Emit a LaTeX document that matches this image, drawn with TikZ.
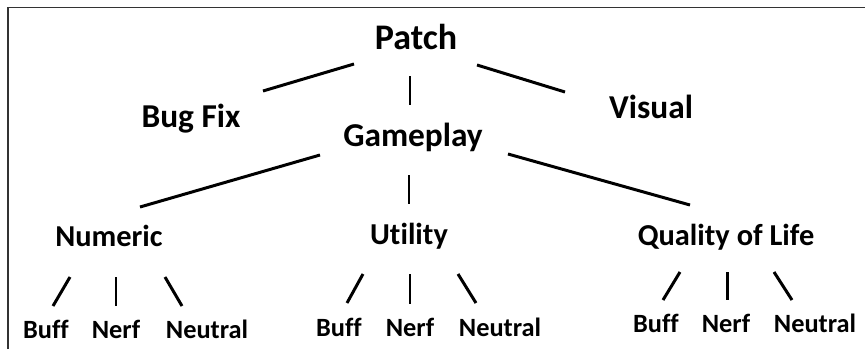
\documentclass[tikz,border=0pt]{standalone}
\usepackage{fontspec}
\setmainfont[Ligatures=NoCommon]{Carlito}

\begin{document}
\begin{tikzpicture}[
    x=0.02cm, y=-0.02cm,
    term/.style={inner sep=0pt, text depth=0pt},
    root/.style={term, text height=12.9pt, font=\fontsize{20.5}{24}\selectfont\bfseries},
    kind/.style={term, text height=12pt, font=\fontsize{19}{23}\selectfont\bfseries},
    area/.style={term, text height=10.9pt, font=\fontsize{17.3}{21}\selectfont\bfseries},
    leaf/.style={term, text height=9.5pt, font=\fontsize{15}{18}\selectfont\bfseries},
    edge/.style={line width=1.7pt, black},
    boxline/.style={line width=0.85pt, black!80},
]
    \useasboundingbox (0,0) rectangle (865,349);

    % --- frame (left and top only) ---
    \draw[boxline] (8,349) -- (8,7.5) -- (865,7.5);

    % --- Root and first level ---
    \node[root] (patch)    at (416,38)  {Patch};
    \node[kind] (bugfix)   at (191,117) {Bug Fix};
    \node[kind] (gameplay) at (413,136) {Gameplay};
    \node[kind] (visual)   at (651,108) {Visual};

    % --- Gameplay areas ---
    \node[area] (numeric) at (109,237) {Numeric};
    \node[area] (utility) at (409,235) {Utility};
    \node[area] (qol)     at (726,236) {Quality of Life};

    % --- Leaves under Numeric ---
    \node[leaf] (nbuff)    at (46,330)  {Buff};
    \node[leaf] (nnerf)    at (116,330) {Nerf};
    \node[leaf] (nneutral) at (207,330) {Neutral};

    % --- Leaves under Utility ---
    \node[leaf] (ubuff)    at (339,328) {Buff};
    \node[leaf] (unerf)    at (410,328) {Nerf};
    \node[leaf] (uneutral) at (500,328) {Neutral};

    % --- Leaves under Quality of Life ---
    \node[leaf] (qbuff)    at (656,324) {Buff};
    \node[leaf] (qnerf)    at (726,324) {Nerf};
    \node[leaf] (qneutral) at (815,324) {Neutral};

    % --- Patch edges ---
    \draw[edge] ([shift={(-62,26)}]patch.center) -- ([shift={(72,-26)}]bugfix.center);
    \draw[edge] ([shift={(-6,38)}]patch.center)  -- ([shift={(-3,-31)}]gameplay.center);
    \draw[edge] ([shift={(61,27)}]patch.center)  -- ([shift={(-86,-16)}]visual.center);

    % --- Gameplay edges ---
    \draw[edge] ([shift={(-93,19)}]gameplay.center) -- ([shift={(31,-30)}]numeric.center);
    \draw[edge] ([shift={(-4,39)}]gameplay.center)  -- ([shift={(0,-31)}]utility.center);
    \draw[edge] ([shift={(95,18)}]gameplay.center)  -- ([shift={(-36,-31)}]qol.center);

    % --- Numeric edges ---
    \draw[edge] ([shift={(-39,40)}]numeric.center) -- ([shift={(7,-24)}]nbuff.center);
    \draw[edge] ([shift={(7,40)}]numeric.center)   -- ([shift={(0,-24)}]nnerf.center);
    \draw[edge] ([shift={(56,40)}]numeric.center)  -- ([shift={(-25,-24)}]nneutral.center);

    % --- Utility edges ---
    \draw[edge] ([shift={(-46,39)}]utility.center) -- ([shift={(8,-25)}]ubuff.center);
    \draw[edge] ([shift={(1,39)}]utility.center)   -- ([shift={(0,-24)}]unerf.center);
    \draw[edge] ([shift={(49,39)}]utility.center)  -- ([shift={(-24,-25)}]uneutral.center);

    % --- Quality of Life edges ---
    \draw[edge] ([shift={(-46,36)}]qol.center) -- ([shift={(7,-24)}]qbuff.center);
    \draw[edge] ([shift={(1,36)}]qol.center)   -- ([shift={(1,-24)}]qnerf.center);
    \draw[edge] ([shift={(48,36)}]qol.center)  -- ([shift={(-23,-24)}]qneutral.center);

\end{tikzpicture}
\end{document}
